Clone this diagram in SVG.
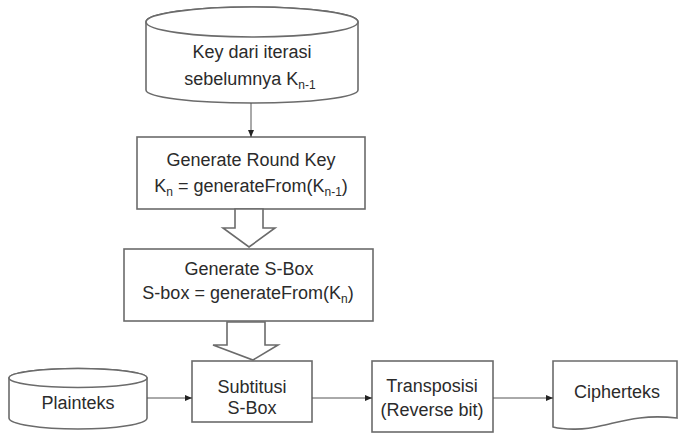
<svg xmlns="http://www.w3.org/2000/svg" width="678" height="435" viewBox="0 0 678 435">
<style>
.s{fill:#fff;stroke:#6b6b6b;stroke-width:1.6}
.t{font-family:"Liberation Sans",Arial,sans-serif;font-size:18px;fill:#2b2b2b;text-anchor:middle}
.sub{font-size:12px}
.c{fill:none;stroke:#555;stroke-width:1}
</style>
<defs>
<marker id="ah" markerWidth="8" markerHeight="8" refX="7" refY="4" orient="auto" markerUnits="userSpaceOnUse">
<path d="M0,1 L7,4 L0,7 z" fill="#222"/>
</marker>
</defs>
<g id="key-prev">
<path class="s" d="M146,22 L146,90 A106,13 0 0 0 358,90 L358,22 A106,15 0 0 0 146,22 Z"/>
<ellipse class="s" cx="252" cy="22" rx="106" ry="15"/>
<text class="t" x="252" y="58">Key dari iterasi</text>
<text class="t" x="250" y="85">sebelumnya K<tspan class="sub" dy="4">n-1</tspan></text>
</g>
<g id="round-key">
<rect class="s" x="137" y="137" width="228" height="72"/>
<text class="t" x="251" y="166">Generate Round Key</text>
<text class="t" x="251" y="192">K<tspan class="sub" dy="4">n</tspan><tspan dy="-4"> = generateFrom(K</tspan><tspan class="sub" dy="4">n-1</tspan><tspan dy="-4">)</tspan></text>
</g>
<g id="sbox-gen">
<rect class="s" x="124" y="249" width="249" height="72"/>
<text class="t" x="249" y="275">Generate S-Box</text>
<text class="t" x="248" y="299">S-box = generateFrom(K<tspan class="sub" dy="4">n</tspan><tspan dy="-4">)</tspan></text>
</g>
<g id="plainteks">
<path class="s" d="M9,378 L9,418 A69,11 0 0 0 147,418 L147,378 A69,9.5 0 0 0 9,378 Z"/>
<ellipse class="s" cx="78" cy="378" rx="69" ry="9.5"/>
<text class="t" x="78" y="409">Plainteks</text>
</g>
<g id="subtitusi">
<rect class="s" x="192" y="361" width="120" height="61"/>
<text class="t" x="252" y="393">Subtitusi</text>
<text class="t" x="252" y="414">S-Box</text>
</g>
<g id="transposisi">
<rect class="s" x="372" y="361" width="121" height="71"/>
<text class="t" x="432" y="392">Transposisi</text>
<text class="t" x="432" y="416">(Reverse bit)</text>
</g>
<g id="cipherteks">
<path class="s" d="M553,361 L677,361 L677,418 C640,414 620,422 600,426 C585,430 565,430 553,427 Z"/>
<text class="t" x="617" y="398">Cipherteks</text>
</g>
<g id="connectors">
<line class="c" x1="251" y1="103" x2="251" y2="137" marker-end="url(#ah)"/>
<path class="s" d="M235,209 L263,209 L263,228 L275,228 L249,247 L223,228 L235,228 Z"/>
<path class="s" d="M227,322 L265,322 L265,345 L278,345 L253,360 L213,345 L227,345 Z"/>
<line class="c" x1="147" y1="398" x2="192" y2="398" marker-end="url(#ah)"/>
<line class="c" x1="312" y1="398" x2="372" y2="398" marker-end="url(#ah)"/>
<line class="c" x1="493" y1="398" x2="553" y2="398" marker-end="url(#ah)"/>
</g>
</svg>
